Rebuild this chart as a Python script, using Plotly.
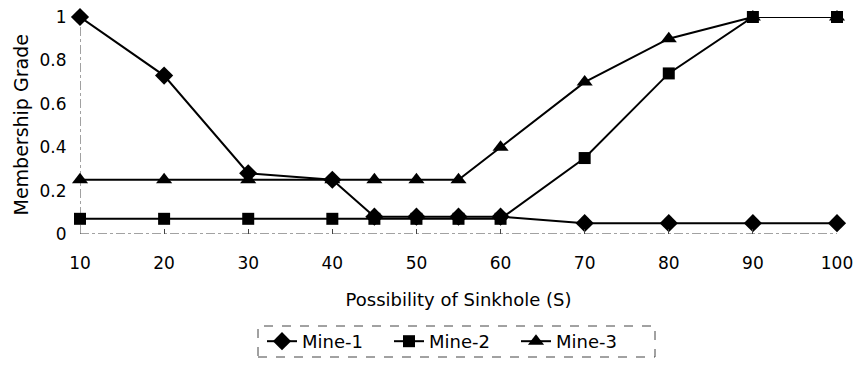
import plotly.graph_objects as go

x_vals = [10, 20, 30, 40, 45, 50, 55, 60, 70, 80, 90, 100]
mine1 = [1.0, 0.73, 0.28, 0.25, 0.08, 0.08, 0.08, 0.08, 0.05, 0.05, 0.05, 0.05]
mine2 = [0.07, 0.07, 0.07, 0.07, 0.07, 0.07, 0.07, 0.07, 0.35, 0.74, 1.0, 1.0]
mine3 = [0.25, 0.25, 0.25, 0.25, 0.25, 0.25, 0.25, 0.40, 0.70, 0.90, 1.0, 1.0]
x_ticks = [10, 20, 30, 40, 50, 60, 70, 80, 90, 100]
y_ticks = [0, 0.2, 0.4, 0.6, 0.8, 1]
y_tick_text = ["0", "0.2", "0.4", "0.6", "0.8", "1"]

FONT = "DejaVu Sans"

fig = go.Figure()
series = [
    ("Mine-3", mine3, "triangle-up", 14),
    ("Mine-2", mine2, "square", 12),
    ("Mine-1", mine1, "diamond", 14),
]
for name, ys, sym, sz in series:
    fig.add_trace(go.Scatter(
        x=x_vals, y=ys, name=name, mode="lines+markers",
        line=dict(color="black", width=2),
        marker=dict(symbol=sym, size=sz, color="black"),
        cliponaxis=False,
    ))

# dashed axis lines
fig.add_shape(type="line", xref="x", yref="y", x0=10, x1=100, y0=0, y1=0,
              line=dict(color="#444", width=1, dash="dashdot"), layer="below")
fig.add_shape(type="line", xref="x", yref="y", x0=10, x1=10, y0=0, y1=1,
              line=dict(color="#444", width=1, dash="dashdot"), layer="below")
# dashed legend frame
fig.add_shape(type="rect", xref="paper", yref="paper",
              x0=(258 - 80) / 757, x1=(655 - 80) / 757,
              y0=(234 - 357) / 217, y1=(234 - 326) / 217,
              line=dict(color="#444", width=1, dash="dash"))

# y-axis title as rotated annotation
fig.add_annotation(text="Membership Grade", xref="paper", yref="paper",
                   x=0, y=0.5, xanchor="center", yanchor="middle",
                   xshift=-60, textangle=-90, showarrow=False,
                   font=dict(family=FONT, size=19, color="black"))

fig.update_layout(
    width=855, height=368,
    margin=dict(l=80, r=18, t=17, b=134, autoexpand=False),
    paper_bgcolor="white", plot_bgcolor="white",
    font=dict(family=FONT, size=17, color="black"),
    showlegend=True,
    legend=dict(orientation="h", x=(262 - 80) / 757, xanchor="left",
                y=(234 - 341.5) / 217, yanchor="middle", traceorder="reversed",
                entrywidth=82, entrywidthmode="pixels",
                font=dict(family=FONT, size=18, color="black"),
                bgcolor="rgba(0,0,0,0)", borderwidth=0),
    xaxis=dict(range=[10, 100], tickmode="array", tickvals=x_ticks,
               ticktext=[str(v) for v in x_ticks],
               showgrid=False, zeroline=False, showline=False,
               ticks="inside", ticklen=5, tickcolor="#444",
               ticklabelstandoff=17,
               title=dict(text="Possibility of Sinkhole (S)", standoff=21,
                          font=dict(family=FONT, size=18))),
    yaxis=dict(range=[0, 1], tickmode="array", tickvals=y_ticks, ticktext=y_tick_text,
               showgrid=False, zeroline=False, showline=False,
               ticks="outside", ticklen=9, tickcolor="rgba(0,0,0,0)"),
)

fig.write_html("out.html")
